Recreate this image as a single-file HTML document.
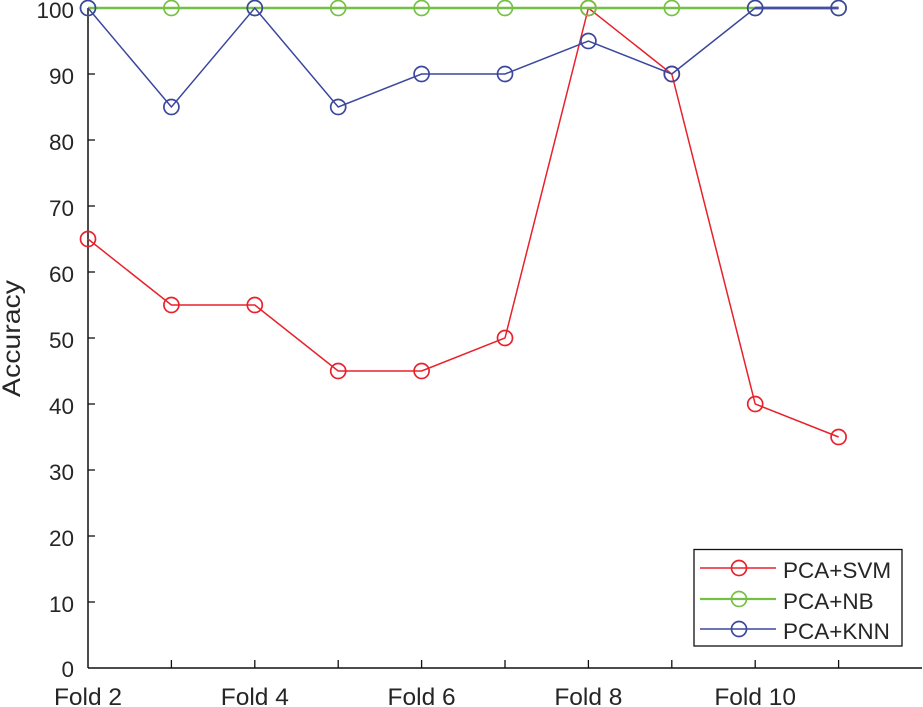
<!DOCTYPE html>
<html><head><meta charset="utf-8"><style>
html,body{margin:0;padding:0;background:#fff;}
svg{display:block;}
text{font-family:"Liberation Sans",Arial,sans-serif;fill:#262626;}
</style></head><body>
<svg width="923" height="707" viewBox="0 0 923 707" xmlns="http://www.w3.org/2000/svg">
<!-- axes -->
<g stroke="#111" stroke-width="1.5" fill="none">
<line x1="88" y1="8" x2="88" y2="668"/>
<line x1="88" y1="668" x2="922" y2="668"/>
</g>
<!-- ticks -->
<g stroke="#111" stroke-width="1.3">
<line x1="88" y1="8" x2="95" y2="8"/>
<line x1="88" y1="74" x2="95" y2="74"/>
<line x1="88" y1="140" x2="95" y2="140"/>
<line x1="88" y1="206" x2="95" y2="206"/>
<line x1="88" y1="272" x2="95" y2="272"/>
<line x1="88" y1="338" x2="95" y2="338"/>
<line x1="88" y1="404" x2="95" y2="404"/>
<line x1="88" y1="470" x2="95" y2="470"/>
<line x1="88" y1="536" x2="95" y2="536"/>
<line x1="88" y1="602" x2="95" y2="602"/>
<line x1="171.4" y1="668" x2="171.4" y2="660"/>
<line x1="254.8" y1="668" x2="254.8" y2="660"/>
<line x1="338.2" y1="668" x2="338.2" y2="660"/>
<line x1="421.6" y1="668" x2="421.6" y2="660"/>
<line x1="505" y1="668" x2="505" y2="660"/>
<line x1="588.4" y1="668" x2="588.4" y2="660"/>
<line x1="671.8" y1="668" x2="671.8" y2="660"/>
<line x1="755.2" y1="668" x2="755.2" y2="660"/>
<line x1="838.6" y1="668" x2="838.6" y2="660"/>
</g>
<g font-size="22.5" text-anchor="end">
<text x="74" y="18">100</text>
<text x="74" y="84">90</text>
<text x="74" y="150">80</text>
<text x="74" y="216">70</text>
<text x="74" y="282">60</text>
<text x="74" y="348">50</text>
<text x="74" y="414">40</text>
<text x="74" y="480">30</text>
<text x="74" y="546">20</text>
<text x="74" y="612">10</text>
<text x="74" y="677">0</text>
</g>
<g font-size="24.5" text-anchor="middle">
<text x="88" y="705">Fold 2</text>
<text x="254.8" y="705">Fold 4</text>
<text x="421.6" y="705">Fold 6</text>
<text x="588.4" y="705">Fold 8</text>
<text x="755.2" y="705">Fold 10</text>
</g>
<text font-size="25" text-anchor="middle" textLength="117" lengthAdjust="spacingAndGlyphs" transform="translate(20,338.5) rotate(-90)">Accuracy</text>

<!-- PCA+SVM -->
<g stroke="#e8212b" stroke-width="1.5" fill="none">
<polyline points="88,239 171.4,305 254.8,305 338.2,371 421.6,371 505,338 588.4,8 671.8,74 755.2,404 838.6,437"/>
</g>
<g stroke="#e8212b" stroke-width="1.7" fill="none">
<circle cx="88" cy="239" r="7.5"/>
<circle cx="171.4" cy="305" r="7.5"/>
<circle cx="254.8" cy="305" r="7.5"/>
<circle cx="338.2" cy="371" r="7.5"/>
<circle cx="421.6" cy="371" r="7.5"/>
<circle cx="505" cy="338" r="7.5"/>
<circle cx="588.4" cy="8" r="7.5"/>
<circle cx="671.8" cy="74" r="7.5"/>
<circle cx="755.2" cy="404" r="7.5"/>
<circle cx="838.6" cy="437" r="7.5"/>
</g>
<!-- PCA+NB -->
<line x1="88" y1="8" x2="838.6" y2="8" stroke="#74c044" stroke-width="2.5"/>
<g stroke="#74c044" stroke-width="1.7" fill="none">
<circle cx="88" cy="8" r="7.5"/>
<circle cx="171.4" cy="8" r="7.5"/>
<circle cx="254.8" cy="8" r="7.5"/>
<circle cx="338.2" cy="8" r="7.5"/>
<circle cx="421.6" cy="8" r="7.5"/>
<circle cx="505" cy="8" r="7.5"/>
<circle cx="588.4" cy="8" r="7.5"/>
<circle cx="671.8" cy="8" r="7.5"/>
<circle cx="755.2" cy="8" r="7.5"/>
<circle cx="838.6" cy="8" r="7.5"/>
</g>
<!-- PCA+KNN -->
<line x1="755.2" y1="8" x2="838.6" y2="8" stroke="#6b6fb3" stroke-width="3"/>
<g stroke="#3b479e" stroke-width="1.5" fill="none">
<polyline points="88,8 171.4,107 254.8,8 338.2,107 421.6,74 505,74 588.4,41 671.8,74 755.2,8 838.6,8"/>
</g>
<g stroke="#3b479e" stroke-width="1.7" fill="none">
<circle cx="88" cy="8" r="7.5"/>
<circle cx="171.4" cy="107" r="7.5"/>
<circle cx="254.8" cy="8" r="7.5"/>
<circle cx="338.2" cy="107" r="7.5"/>
<circle cx="421.6" cy="74" r="7.5"/>
<circle cx="505" cy="74" r="7.5"/>
<circle cx="588.4" cy="41" r="7.5"/>
<circle cx="671.8" cy="74" r="7.5"/>
<circle cx="755.2" cy="8" r="7.5"/>
<circle cx="838.6" cy="8" r="7.5"/>
</g>

<!-- legend -->
<rect x="694" y="549.5" width="208" height="96.5" fill="#fff" stroke="#111" stroke-width="1.3"/>
<line x1="700" y1="568" x2="776" y2="568" stroke="#e8212b" stroke-width="1.4"/>
<circle cx="739" cy="568" r="7.5" stroke="#e8212b" stroke-width="1.7" fill="none"/>
<line x1="700" y1="599" x2="776" y2="599" stroke="#74c044" stroke-width="2.2"/>
<circle cx="739" cy="599" r="7.5" stroke="#74c044" stroke-width="1.7" fill="none"/>
<line x1="700" y1="629" x2="776" y2="629" stroke="#3b479e" stroke-width="1.4"/>
<circle cx="739" cy="629" r="7.5" stroke="#3b479e" stroke-width="1.7" fill="none"/>
<g font-size="22.5">
<text x="783" y="578">PCA+SVM</text>
<text x="783" y="609">PCA+NB</text>
<text x="783" y="639">PCA+KNN</text>
</g>
</svg>
</body></html>
